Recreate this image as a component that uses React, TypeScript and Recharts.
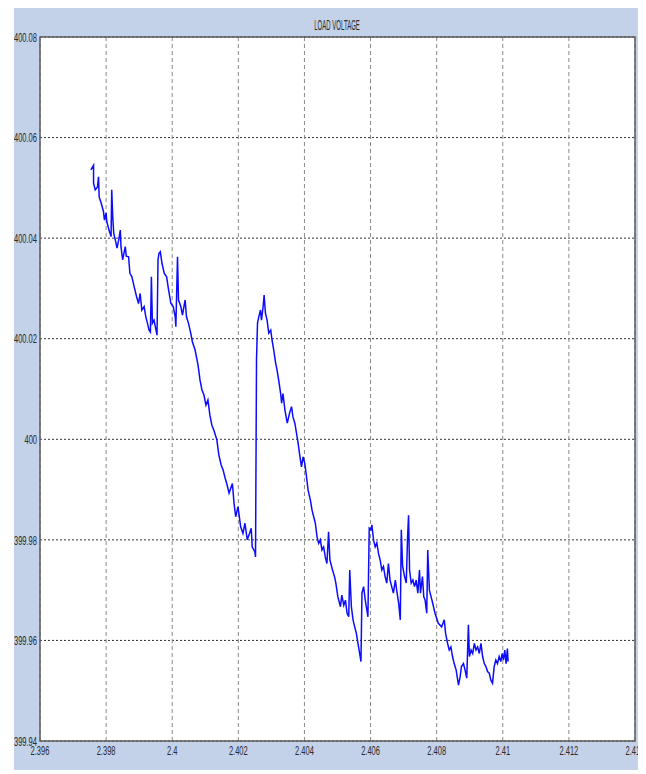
import { LineChart, Line, XAxis, YAxis, CartesianGrid, ReferenceArea } from 'recharts'

// sample times (s) and measured load voltage (V)
const times = [
  2.39754, 2.39762, 2.39762, 2.39767, 2.39774, 2.39777, 2.39779, 2.39785, 2.39792, 2.39795,
  2.398, 2.39802, 2.3981, 2.39815, 2.39817, 2.3982, 2.39823, 2.3983, 2.39833, 2.39838,
  2.39843, 2.39845, 2.3985, 2.39858, 2.39861, 2.39868, 2.39872, 2.39878, 2.39885, 2.39892,
  2.39898, 2.39903, 2.39908, 2.39915, 2.3992, 2.39925, 2.3993, 2.39934, 2.39937, 2.3994,
  2.39945, 2.39951, 2.39954, 2.39957, 2.3996, 2.39964, 2.39969, 2.39976, 2.39983, 2.39989,
  2.39996, 2.40003, 2.40009, 2.40011, 2.40016, 2.40019, 2.40026, 2.40031, 2.40039, 2.40043,
  2.40049, 2.40056, 2.40061, 2.40069, 2.40078, 2.40084, 2.4009, 2.40096, 2.40102, 2.40108,
  2.40114, 2.4012, 2.40126, 2.40135, 2.40141, 2.40148, 2.40154, 2.4016, 2.40166, 2.40172,
  2.40182, 2.40187, 2.40192, 2.40199, 2.40207, 2.40214, 2.4022, 2.40227, 2.40234, 2.40239,
  2.40242, 2.4025, 2.40252, 2.40255, 2.40258, 2.40262, 2.40267, 2.4027, 2.40275, 2.40278,
  2.40282, 2.40287, 2.40292, 2.40298, 2.40302, 2.40307, 2.40313, 2.40317, 2.40322, 2.40328,
  2.40331, 2.40335, 2.40341, 2.40348, 2.40355, 2.40361, 2.40365, 2.40371, 2.40376, 2.40381,
  2.40385, 2.40391, 2.40396, 2.40401, 2.40405, 2.40411, 2.40418, 2.40423, 2.40428, 2.40433,
  2.40438, 2.40443, 2.40448, 2.40453, 2.40458, 2.40463, 2.40468, 2.40473, 2.40477, 2.40485,
  2.40491, 2.40495, 2.40501, 2.40509, 2.40513, 2.40519, 2.40524, 2.40529, 2.40534, 2.40537,
  2.40542, 2.40547, 2.40552, 2.40557, 2.40562, 2.40567, 2.40571, 2.40574, 2.40579, 2.40584,
  2.40589, 2.40592, 2.40596, 2.40601, 2.40604, 2.40609, 2.40614, 2.40619, 2.40624, 2.40629,
  2.40634, 2.40639, 2.40644, 2.40649, 2.40654, 2.40659, 2.40664, 2.40669, 2.40675, 2.40679,
  2.40685, 2.4069, 2.40693, 2.40697, 2.40703, 2.40708, 2.40712, 2.40715, 2.40718, 2.40723,
  2.40728, 2.40733, 2.40738, 2.40743, 2.40748, 2.40751, 2.40757, 2.40761, 2.40765, 2.4077,
  2.40773, 2.40778, 2.40783, 2.40788, 2.40795, 2.40805, 2.40815, 2.40823, 2.40827, 2.40833,
  2.40838, 2.40843, 2.40848, 2.40853, 2.40859, 2.40866, 2.40871, 2.40875, 2.40881, 2.40886,
  2.40891, 2.40896, 2.40899, 2.40904, 2.40909, 2.40914, 2.40919, 2.40924, 2.40929, 2.40934,
  2.40939, 2.40944, 2.40949, 2.40954, 2.40959, 2.40964, 2.40969, 2.40974, 2.40979, 2.40984,
  2.40989, 2.40994, 2.40998, 2.41002, 2.41006, 2.4101, 2.41014, 2.41016,
]

const volts = [
  400.0536, 400.0545, 400.051, 400.0496, 400.0502, 400.0522, 400.0482, 400.047, 400.0453, 400.0436,
  400.045, 400.0433, 400.0413, 400.0403, 400.0496, 400.0443, 400.041, 400.039, 400.038, 400.0396,
  400.0416, 400.0383, 400.0357, 400.0383, 400.0364, 400.0363, 400.033, 400.0323, 400.0303, 400.0284,
  400.027, 400.029, 400.0257, 400.0264, 400.0244, 400.0231, 400.0217, 400.0213, 400.0323, 400.0231,
  400.0237, 400.0217, 400.0207, 400.0357, 400.037, 400.0373, 400.035, 400.033, 400.0323, 400.0297,
  400.027, 400.0264, 400.0244, 400.0224, 400.0363, 400.0277, 400.0264, 400.0247, 400.0277, 400.0244,
  400.0231, 400.0211, 400.0194, 400.0178, 400.0148, 400.0118, 400.0098, 400.0088, 400.0068, 400.0078,
  400.0048, 400.0028, 400.0018, 399.9999, 399.9969, 399.9949, 399.9939, 399.9923, 399.9909, 399.9893,
  399.9912, 399.9873, 399.9846, 399.9866, 399.9826, 399.9813, 399.9833, 399.98, 399.9813, 399.9823,
  399.9786, 399.9776, 399.9766, 400.0158, 400.0231, 400.0244, 400.0257, 400.0237, 400.0264, 400.0287,
  400.0251, 400.0237, 400.0211, 400.0217, 400.0197, 400.0178, 400.0151, 400.0138, 400.0118, 400.0091,
  400.0072, 400.0091, 400.0058, 400.0032, 400.0052, 400.0065, 400.0045, 400.0032, 400.0012, 399.9992,
  399.9972, 399.9945, 399.9965, 399.9952, 399.9932, 399.9899, 399.9879, 399.9859, 399.9846, 399.9833,
  399.9806, 399.9793, 399.98, 399.978, 399.9786, 399.9766, 399.9753, 399.9816, 399.976, 399.974,
  399.9727, 399.9714, 399.9687, 399.9667, 399.969, 399.967, 399.968, 399.9654, 399.9647, 399.974,
  399.9667, 399.9641, 399.9627, 399.9614, 399.9594, 399.9574, 399.9558, 399.9694, 399.9707, 399.968,
  399.966, 399.9647, 399.9823, 399.982, 399.983, 399.98, 399.9786, 399.9794, 399.9773, 399.976,
  399.974, 399.9747, 399.9727, 399.9714, 399.9753, 399.972, 399.9707, 399.9694, 399.972, 399.97,
  399.9674, 399.9641, 399.982, 399.9747, 399.9727, 399.9714, 399.9806, 399.9849, 399.974, 399.9714,
  399.972, 399.9707, 399.972, 399.9694, 399.974, 399.9694, 399.9727, 399.9687, 399.968, 399.9654,
  399.978, 399.97, 399.9687, 399.9674, 399.9654, 399.9634, 399.9627, 399.9641, 399.9614, 399.9594,
  399.9581, 399.9587, 399.9568, 399.9554, 399.9541, 399.9511, 399.9528, 399.9548, 399.9554, 399.9541,
  399.9525, 399.9631, 399.9568, 399.9581, 399.9574, 399.9594, 399.9581, 399.9587, 399.9574, 399.9594,
  399.9568, 399.9554, 399.9548, 399.9538, 399.9535, 399.9521, 399.9515, 399.9548, 399.9561, 399.9554,
  399.9568, 399.9558, 399.9574, 399.9561, 399.9581, 399.9554, 399.9584, 399.9558,
]

const xTicks = [2.396, 2.398, 2.4, 2.402, 2.404, 2.406, 2.408, 2.41, 2.412, 2.414]
const yTicks = [399.94, 399.96, 399.98, 400, 400.02, 400.04, 400.06, 400.08]

const data = times.map((t, i) => ({ t, v: volts[i] }))

const FONT = "'Liberation Sans', Arial, sans-serif"
const fmt = (v: number, d: number) => String(Number(v.toFixed(d)))

const XTick = ({ x, y, payload }: any) => (
  <text transform={`translate(${x},${y}) scale(0.58,1)`} textAnchor="middle" dy="0.72em"
    fontSize={13} fontFamily={FONT} fill="#2a2a2a">
    {fmt(payload.value, 3)}
  </text>
)

const YTick = ({ x, y, payload }: any) => (
  <text transform={`translate(${x},${y}) scale(0.58,1)`} textAnchor="end" dy="0.36em"
    fontSize={13} fontFamily={FONT} fill="#2a2a2a">
    {fmt(payload.value, 2)}
  </text>
)

export default function App() {
  return (
    <div style={{ position: 'relative', marginLeft: 6, width: 626, height: 762, background: '#c3d1e9' }}>
      <div style={{
        position: 'absolute', left: 26, right: 5, top: 10, textAlign: 'center',
        fontFamily: FONT, fontSize: 14, lineHeight: '14px', color: '#2a2a2a',
      }}>
        <span style={{ display: 'inline-block', transform: 'scaleX(0.43)' }}>LOAD VOLTAGE</span>
      </div>
      <LineChart width={626} height={762} data={data} margin={{ top: 29, right: 5, left: 0, bottom: 0 }}>
        <CartesianGrid vertical={false} stroke="#333" strokeDasharray="2 2" fill="#fff" />
        <CartesianGrid horizontal={false} stroke="#888" strokeDasharray="4 3" />
        <XAxis dataKey="t" type="number" domain={[2.396, 2.414]} ticks={xTicks} allowDataOverflow
          axisLine={false} tickLine={false} tickSize={0} tickMargin={5} height={29} tick={<XTick />} interval={0} />
        <YAxis type="number" domain={[399.94, 400.08]} ticks={yTicks} allowDataOverflow
          axisLine={false} tickLine={false} tickSize={0} tickMargin={3} width={26} tick={<YTick />} interval={0} />
        <ReferenceArea x1={2.396} x2={2.414} y1={399.94} y2={400.08} fill="none" stroke="#5e5e5e" strokeWidth={1.5} />
        <Line type="linear" dataKey="v" stroke="#0c0cff" strokeWidth={1.5} dot={false} isAnimationActive={false} />
      </LineChart>
    </div>
  )
}
